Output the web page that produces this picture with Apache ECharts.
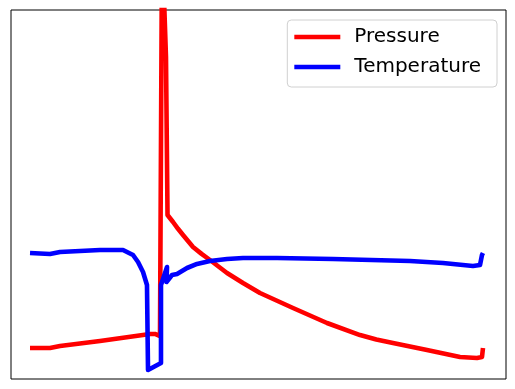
<!DOCTYPE html>
<html>
<head>
<meta charset="utf-8">
<script src="https://cdn.jsdelivr.net/npm/echarts@6/dist/echarts.min.js"></script>
<style>html,body{margin:0;padding:0;background:#fff}#c{width:515px;height:389px}</style>
</head>
<body>
<div id="c"></div>
<script>
// Pressure series (time, value)
const pressureTime = [3.84, 7.88, 9.90, 17.98, 28.08, 29.09, 30.10, 30.51, 31.31, 31.62, 32.73, 33.74, 34.75, 36.77, 38.50, 40.20, 43.64, 46.87, 50.30, 56.97, 63.84, 70.51, 73.80, 77.17, 84.04, 90.71, 94.14, 95.15, 95.35];
const pressureVal  = [8.40, 8.40, 8.94, 10.30, 12.20, 12.20, 11.65, 119.0, 87.26, 44.44, 42.55, 40.70, 39.02, 35.77, 33.90, 32.25, 28.73, 26.02, 23.31, 19.24, 15.18, 11.90, 10.70, 9.76, 7.86, 5.96, 5.69, 5.96, 8.40];
// Temperature series (time, value)
const tempTime = [3.84, 7.88, 9.90, 17.98, 22.63, 24.65, 25.66, 26.67, 27.47, 27.68, 28.08, 30.30, 30.30, 31.52, 31.41, 32.53, 33.54, 35.56, 37.58, 40.20, 43.64, 46.87, 53.74, 65.05, 80.61, 87.27, 93.33, 94.75, 95.15, 95.35];
const tempVal  = [34.15, 33.88, 34.42, 34.96, 34.96, 33.60, 31.71, 29.00, 25.47, 2.44, 1.90, 4.34, 25.47, 30.35, 26.29, 28.18, 28.46, 30.08, 31.17, 31.98, 32.52, 32.79, 32.79, 32.52, 31.98, 31.44, 30.62, 30.89, 33.60, 34.15];
const seriesNames = ['Pressure', 'Temperature'];

const zip = (xs, ys) => xs.map((x, i) => [x, ys[i]]);

const chart = echarts.init(document.getElementById('c'), null, {renderer: 'canvas'});
chart.setOption({
  animation: false,
  backgroundColor: '#ffffff',
  grid: {left: 11, right: 9, top: 10, bottom: 10, show: true, borderColor: '#000', borderWidth: 1, backgroundColor: 'transparent'},
  xAxis: {type: 'value', min: 0, max: 100, axisLine: {show: false}, axisTick: {show: false}, axisLabel: {show: false}, splitLine: {show: false}},
  yAxis: {type: 'value', min: 0, max: 100, axisLine: {show: false}, axisTick: {show: false}, axisLabel: {show: false}, splitLine: {show: false}},
  legend: {
    orient: 'vertical', right: 18, top: 20,
    padding: [7, 16, 10, 7],
    icon: 'rect',
    itemWidth: 46, itemHeight: 4.4, itemGap: 10,
    backgroundColor: '#fff', borderColor: '#d0d0d0', borderWidth: 1, borderRadius: 4,
    textStyle: {fontFamily: 'DejaVu Sans', fontSize: 20, color: '#000', lineHeight: 20, padding: [0, 0, 0, 9]},
    data: seriesNames
  },
  series: [
    {name: seriesNames[0], type: 'line', data: zip(pressureTime, pressureVal), symbol: 'none', clip: true,
     lineStyle: {color: '#ff0000', width: 4.6, join: 'round'}, itemStyle: {color: '#ff0000'}},
    {name: seriesNames[1], type: 'line', data: zip(tempTime, tempVal), symbol: 'none', clip: true,
     lineStyle: {color: '#0000ff', width: 4.6, join: 'round'}, itemStyle: {color: '#0000ff'}}
  ]
});
</script>
</body>
</html>
